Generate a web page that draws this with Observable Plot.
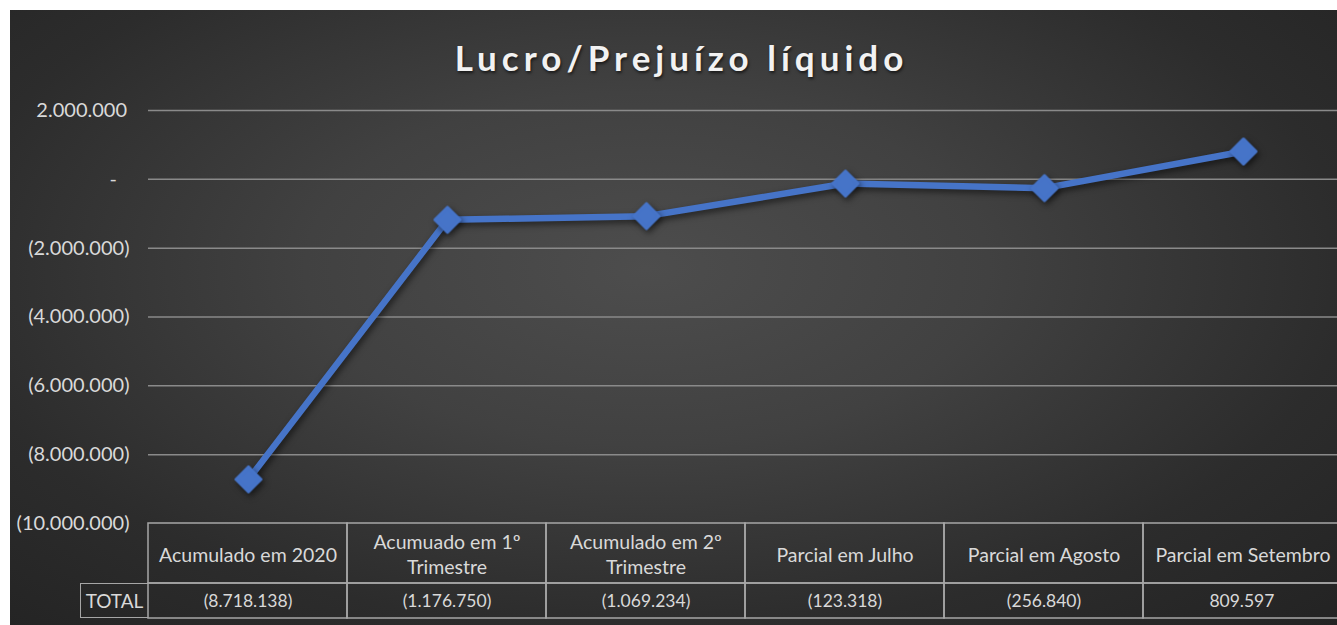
<!DOCTYPE html>
<html>
<head>
<meta charset="utf-8">
<script src="https://cdn.jsdelivr.net/npm/d3@7"></script>
<script src="https://cdn.jsdelivr.net/npm/@observablehq/plot@0.6"></script>
<style>
  html, body { margin: 0; padding: 0; background: #ffffff; }
  #chart {
    position: absolute; left: 10px; top: 10px; width: 1327px; height: 615px; overflow: hidden;
    background: radial-gradient(ellipse farthest-corner at 48% 42%, #4d4d4d 0%, #414141 35%, #2c2c2c 72%, #232323 100%);
    font-family: Lato, "Open Sans", sans-serif;
  }
  #title {
    position: absolute; left: 16px; right: 0; top: 30px; text-align: center;
    font-family: Lato, sans-serif; font-weight: 700; font-size: 35px; line-height: 1;
    letter-spacing: 5px; color: #f2f2f2; text-shadow: 1px 2px 3px rgba(0,0,0,0.6);
  }
  .layer { position: absolute; left: 0; }
  #totalcell {
    position: absolute; left: 70px; top: 573px; width: 68px; height: 35px; box-sizing: border-box;
    border: 1.5px solid #a6a6a6; border-right: none; color: #d9d9d9; font-size: 19px;
    display: flex; align-items: center; justify-content: center;
  }
</style>
</head>
<body>
<div id="chart">
  <div id="title">Lucro/Prejuízo líquido</div>
  <div id="main" class="layer" style="top:0"></div>
  <div id="head" class="layer" style="top:511px"></div>
  <div id="tot" class="layer" style="top:571px"></div>
  <div id="totalcell">TOTAL</div>
</div>
<script>
const categories = ["Acumulado em 2020", "Acumuado em 1º Trimestre", "Acumulado em 2º Trimestre", "Parcial em Julho", "Parcial em Agosto", "Parcial em Setembro"];
const headerLabels = ["Acumulado em 2020", "Acumuado em 1º\nTrimestre", "Acumulado em 2º\nTrimestre", "Parcial em Julho", "Parcial em Agosto", "Parcial em Setembro"];
const values = [-8718138, -1176750, -1069234, -123318, -256840, 809597];
const yTicks = [-10000000, -8000000, -6000000, -4000000, -2000000, 0, 2000000];

const fmt = d3.formatLocale({decimal: ",", thousands: ".", grouping: [3], currency: ["", ""]}).format(",d");
const acct = v => v < 0 ? `(${fmt(-v)})` : v === 0 ? "-\u2002\u2009" : fmt(v) + "\u2009";

const data = categories.map((c, i) => ({cat: c, value: values[i]}));
const W = 1327;
const xRange = [138, 1332];
const blue = "#4674C8";
const gridColor = "#8a8a8a";
const borderColor = "#a6a6a6";
const textColor = "#d9d9d9";

const main = Plot.plot({
  width: W, height: 530,
  marginTop: 100, marginBottom: 17, marginLeft: 138, marginRight: 0,
  style: {background: "transparent", color: textColor, fontSize: "20px", fontFamily: "Lato, sans-serif", overflow: "visible"},
  x: {type: "point", domain: categories, range: xRange, padding: 0.5, axis: null},
  y: {domain: [-10000000, 2000000], ticks: yTicks, tickFormat: acct, tickSize: 0, tickPadding: 19, label: null},
  marks: [
    Plot.ruleY(yTicks.filter(t => t > yTicks[0]), {stroke: gridColor, strokeWidth: 1.5}),
    Plot.line(data, {x: "cat", y: "value", stroke: blue, strokeWidth: 6.5, strokeLinejoin: "round"}),
    Plot.dot(data, {x: "cat", y: "value", symbol: "diamond2", r: 11, fill: blue, stroke: blue, strokeWidth: 3.5, strokeLinejoin: "round"})
  ]
});
main.querySelectorAll('g[aria-label="line"], g[aria-label="dot"]').forEach(g => {
  g.style.filter = "drop-shadow(2px 3px 3px rgba(0,0,0,0.55))";
});
document.getElementById("main").appendChild(main);

const head = Plot.plot({
  width: W, height: 64,
  marginTop: 2, marginBottom: 2, marginLeft: 138, marginRight: 0,
  style: {background: "transparent", color: textColor, fontSize: "19.5px", fontFamily: "Lato, sans-serif", overflow: "visible"},
  x: {type: "band", domain: categories, range: xRange, padding: 0, axis: null},
  marks: [
    Plot.cell(categories, {x: d => d, fill: "none", stroke: borderColor, strokeWidth: 1.5}),
    Plot.text(categories, {x: d => d, text: (d, i) => headerLabels[i], frameAnchor: "middle", fill: textColor, fontSize: 19.5, lineHeight: 1.28})
  ]
});
document.getElementById("head").appendChild(head);

const tot = Plot.plot({
  width: W, height: 39,
  marginTop: 2, marginBottom: 2, marginLeft: 138, marginRight: 0,
  style: {background: "transparent", color: textColor, fontSize: "17px", fontFamily: "Lato, sans-serif", overflow: "visible"},
  x: {type: "band", domain: categories, range: xRange, padding: 0, axis: null},
  marks: [
    Plot.cell(data, {x: "cat", fill: "none", stroke: borderColor, strokeWidth: 1.5}),
    Plot.text(data, {x: "cat", text: d => acct(d.value), frameAnchor: "middle", fill: textColor, fontSize: 17.5})
  ]
});
document.getElementById("tot").appendChild(tot);
</script>
</body>
</html>
